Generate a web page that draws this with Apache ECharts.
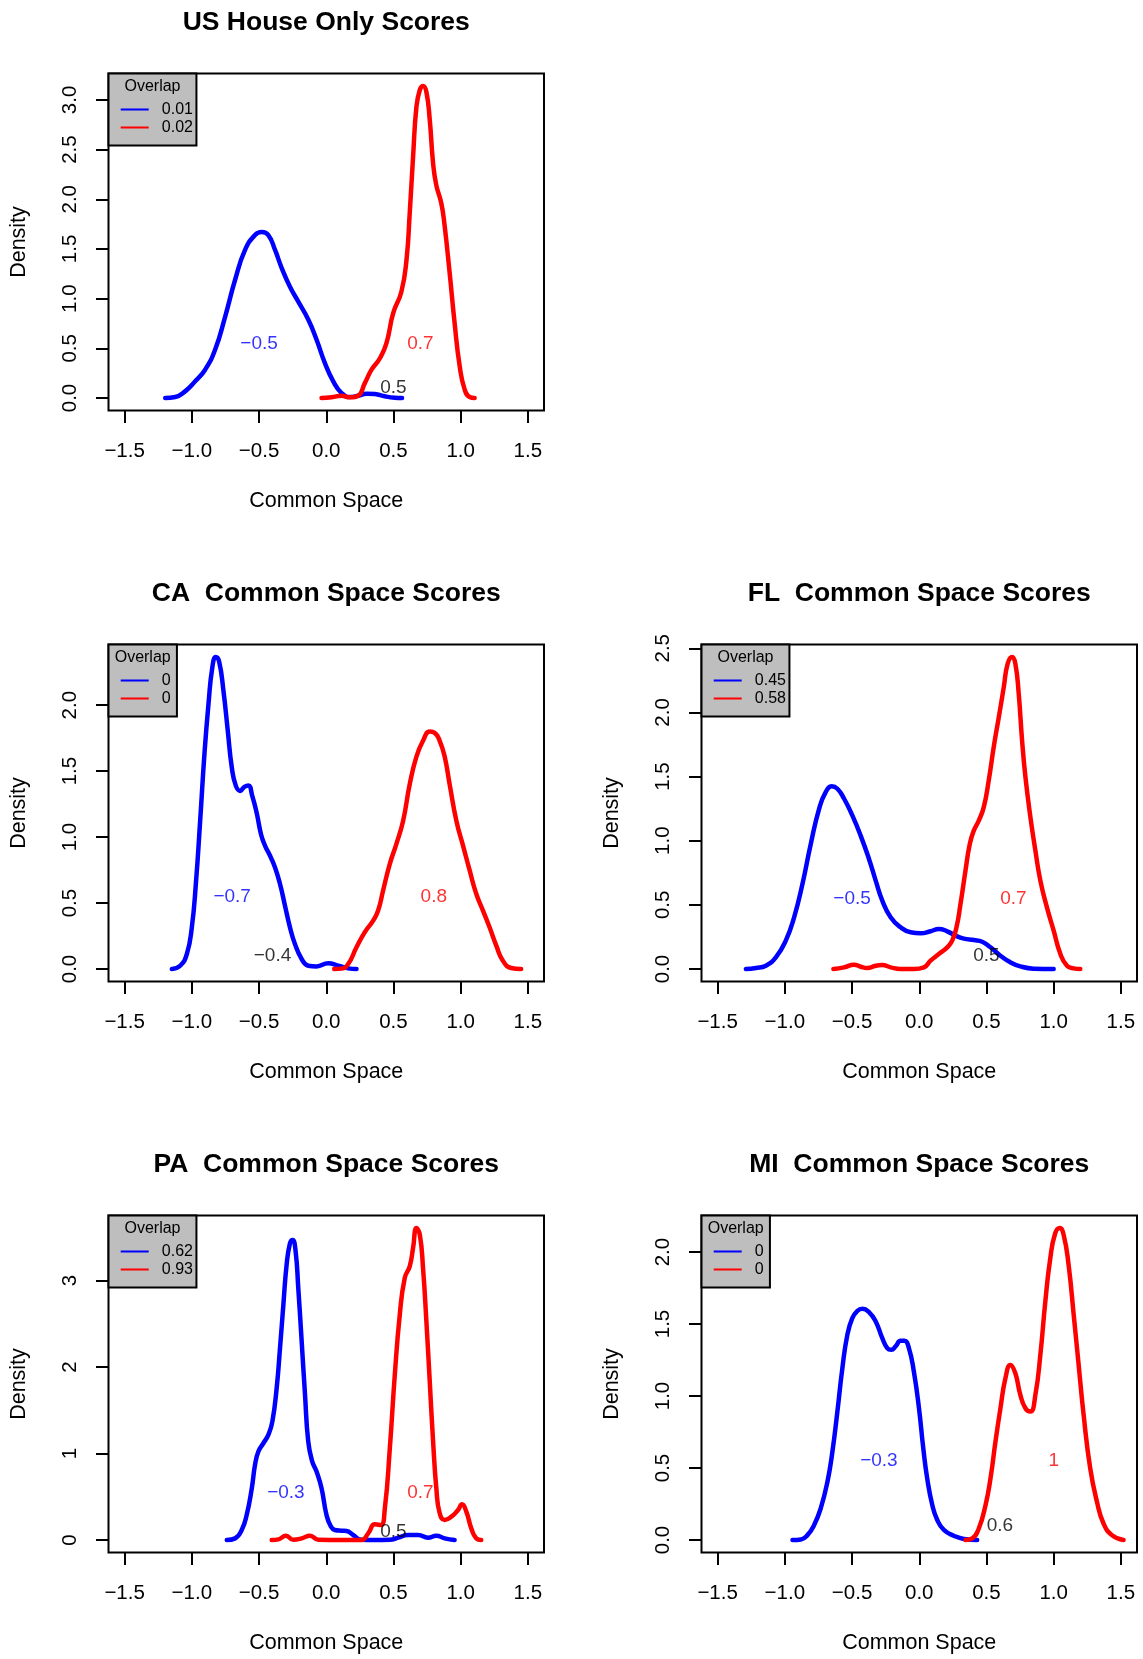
<!DOCTYPE html>
<html>
<head>
<meta charset="utf-8">
<script src="https://cdn.jsdelivr.net/npm/echarts@6/dist/echarts.min.js"></script>
<style>
  html, body { margin: 0; padding: 0; background: #ffffff; }
  #chart { width: 1143px; height: 1659px; }
</style>
</head>
<body>
<div id="chart"></div>
<script>
// ---- Data: kernel density curves of common-space scores ([score, density]) ----
const usBlue = [[-1.198,0],[-1.124,0.01],[-1.05,0.067],[-0.975,0.168],[-0.901,0.285],[-0.827,0.486],[-0.752,0.82],[-0.678,1.19],[-0.604,1.49],[-0.53,1.64],[-0.48,1.67],[-0.431,1.64],[-0.381,1.49],[-0.332,1.31],[-0.27,1.12],[-0.208,0.97],[-0.134,0.79],[-0.072,0.586],[-0.01,0.352],[0.052,0.168],[0.114,0.05],[0.176,0.01],[0.238,0.023],[0.3,0.044],[0.361,0.04],[0.436,0.017],[0.51,0.003],[0.564,0]];
const usRed = [[-0.035,0],[0.04,0.007],[0.114,0.023],[0.176,0.007],[0.238,0.023],[0.287,0.15],[0.337,0.285],[0.399,0.4],[0.448,0.553],[0.498,0.854],[0.559,1.07],[0.597,1.39],[0.621,1.86],[0.646,2.43],[0.671,2.93],[0.696,3.1],[0.72,3.14],[0.745,3.08],[0.77,2.8],[0.795,2.36],[0.819,2.14],[0.856,1.96],[0.881,1.73],[0.918,1.26],[0.955,0.754],[0.993,0.318],[1.03,0.084],[1.067,0.01],[1.104,0]];

const caBlue = [[-1.149,0],[-1.087,0.025],[-1.037,0.114],[-1.0,0.316],[-0.97,0.646],[-0.938,1.124],[-0.906,1.633],[-0.876,2.01],[-0.847,2.29],[-0.822,2.365],[-0.797,2.33],[-0.765,2.11],[-0.733,1.81],[-0.703,1.53],[-0.673,1.39],[-0.641,1.35],[-0.609,1.38],[-0.579,1.39],[-0.55,1.31],[-0.517,1.18],[-0.485,1.02],[-0.455,0.934],[-0.418,0.858],[-0.381,0.77],[-0.344,0.644],[-0.307,0.48],[-0.27,0.316],[-0.233,0.19],[-0.183,0.076],[-0.134,0.025],[-0.072,0.02],[0.015,0.043],[0.089,0.025],[0.163,0.005],[0.225,0]];
const caRed = [[0.059,0],[0.114,0.003],[0.163,0.038],[0.225,0.165],[0.287,0.28],[0.349,0.367],[0.386,0.443],[0.423,0.595],[0.473,0.797],[0.522,0.949],[0.572,1.124],[0.621,1.4],[0.671,1.61],[0.72,1.73],[0.77,1.8],[0.807,1.79],[0.844,1.73],[0.881,1.61],[0.918,1.4],[0.968,1.124],[1.017,0.937],[1.067,0.747],[1.116,0.57],[1.166,0.443],[1.215,0.316],[1.265,0.177],[1.314,0.063],[1.376,0.008],[1.45,0]];

const flBlue = [[-1.29,0],[-1.215,0.008],[-1.141,0.026],[-1.067,0.091],[-0.993,0.221],[-0.931,0.403],[-0.869,0.663],[-0.807,0.975],[-0.745,1.249],[-0.696,1.379],[-0.651,1.424],[-0.609,1.405],[-0.559,1.327],[-0.498,1.197],[-0.436,1.04],[-0.374,0.858],[-0.324,0.689],[-0.275,0.533],[-0.213,0.403],[-0.139,0.325],[-0.064,0.286],[0.01,0.278],[0.084,0.294],[0.146,0.312],[0.208,0.294],[0.27,0.26],[0.332,0.237],[0.406,0.226],[0.468,0.213],[0.53,0.169],[0.604,0.104],[0.678,0.052],[0.752,0.021],[0.851,0.003],[1.0,0]];
const flRed = [[-0.639,0],[-0.559,0.013],[-0.485,0.034],[-0.436,0.018],[-0.386,0.008],[-0.324,0.026],[-0.275,0.031],[-0.213,0.013],[-0.139,0],[-0.04,0],[0.035,0.013],[0.084,0.065],[0.146,0.117],[0.208,0.169],[0.245,0.221],[0.277,0.325],[0.307,0.507],[0.344,0.767],[0.376,0.975],[0.406,1.079],[0.443,1.157],[0.48,1.262],[0.517,1.47],[0.554,1.73],[0.592,1.964],[0.629,2.198],[0.658,2.38],[0.691,2.432],[0.715,2.38],[0.74,2.146],[0.765,1.782],[0.79,1.496],[0.827,1.183],[0.864,0.923],[0.901,0.689],[0.95,0.481],[1.0,0.299],[1.05,0.117],[1.099,0.026],[1.149,0.005],[1.198,0]];

const paBlue = [[-0.74,0],[-0.678,0.019],[-0.629,0.116],[-0.592,0.289],[-0.554,0.598],[-0.53,0.868],[-0.505,1.023],[-0.468,1.119],[-0.431,1.216],[-0.401,1.37],[-0.369,1.756],[-0.344,2.219],[-0.319,2.72],[-0.295,3.18],[-0.27,3.43],[-0.25,3.47],[-0.228,3.34],[-0.208,2.91],[-0.183,2.3],[-0.158,1.68],[-0.134,1.14],[-0.104,0.907],[-0.072,0.791],[-0.035,0.598],[0.002,0.289],[0.035,0.154],[0.064,0.116],[0.114,0.108],[0.151,0.104],[0.2,0.058],[0.262,0.003],[0.361,0],[0.473,0.002],[0.535,0.027],[0.609,0.058],[0.683,0.058],[0.757,0.027],[0.819,0.05],[0.881,0.019],[0.955,0]];
const paRed = [[-0.406,0],[-0.356,0.008],[-0.3,0.05],[-0.245,0.004],[-0.183,0.019],[-0.121,0.05],[-0.059,0.003],[0.114,0],[0.262,0],[0.312,0.077],[0.361,0.181],[0.406,0.174],[0.436,0.367],[0.473,1.061],[0.51,1.91],[0.547,2.605],[0.584,3.03],[0.621,3.165],[0.646,3.377],[0.671,3.608],[0.696,3.53],[0.72,3.146],[0.745,2.528],[0.77,1.833],[0.795,1.139],[0.819,0.598],[0.844,0.309],[0.881,0.232],[0.931,0.27],[0.98,0.347],[1.01,0.413],[1.042,0.328],[1.079,0.135],[1.116,0.019],[1.153,0]];

const miBlue = [[-0.943,0],[-0.881,0.004],[-0.832,0.034],[-0.782,0.104],[-0.733,0.22],[-0.683,0.405],[-0.646,0.614],[-0.609,0.892],[-0.572,1.193],[-0.535,1.425],[-0.498,1.541],[-0.46,1.592],[-0.423,1.606],[-0.374,1.583],[-0.324,1.518],[-0.275,1.402],[-0.238,1.333],[-0.208,1.321],[-0.176,1.344],[-0.139,1.383],[-0.109,1.383],[-0.077,1.333],[-0.04,1.17],[-0.002,0.915],[0.03,0.637],[0.059,0.429],[0.097,0.243],[0.134,0.139],[0.183,0.07],[0.257,0.03],[0.332,0.007],[0.431,0]];
const miRed = [[0.344,0],[0.394,0.011],[0.443,0.08],[0.493,0.242],[0.53,0.428],[0.567,0.683],[0.604,0.915],[0.641,1.123],[0.678,1.216],[0.715,1.158],[0.752,1.008],[0.79,0.915],[0.827,0.892],[0.864,1.008],[0.901,1.286],[0.938,1.656],[0.975,1.958],[1.012,2.132],[1.045,2.167],[1.074,2.12],[1.111,1.912],[1.149,1.564],[1.186,1.216],[1.223,0.868],[1.272,0.498],[1.322,0.266],[1.371,0.115],[1.433,0.034],[1.52,0]];

// Overlap values shown in each legend (blue, red)
const usOverlap = ['0.01', '0.02'];
const caOverlap = ['0', '0'];
const flOverlap = ['0.45', '0.58'];
const paOverlap = ['0.62', '0.93'];
const miOverlap = ['0', '0'];

// Group means (blue, red) and the cut point written near the baseline
const usMeans = [-0.5, 0.7];
const caMeans = [-0.7, 0.8];
const flMeans = [-0.5, 0.7];
const paMeans = [-0.3, 0.7];
const miMeans = [-0.3, 1];
const usCut = 0.5;
const caCut = -0.4;
const flCut = 0.5;
const paCut = 0.5;
const miCut = 0.6;

// Panel titles
const panelTitles = [
  'US House Only Scores',
  'CA  Common Space Scores',
  'FL  Common Space Scores',
  'PA  Common Space Scores',
  'MI  Common Space Scores'
];

// Tick values and labels
const xTicks = [-1.5, -1, -0.5, 0, 0.5, 1, 1.5];
const xTickLabels = ['\u22121.5', '\u22121.0', '\u22120.5', '0.0', '0.5', '1.0', '1.5'];
const usYTicks = [0, 0.5, 1, 1.5, 2, 2.5, 3];
const usYLabels = ['0.0', '0.5', '1.0', '1.5', '2.0', '2.5', '3.0'];
const caYTicks = [0, 0.5, 1, 1.5, 2];
const caYLabels = ['0.0', '0.5', '1.0', '1.5', '2.0'];
const flYTicks = [0, 0.5, 1, 1.5, 2, 2.5];
const flYLabels = ['0.0', '0.5', '1.0', '1.5', '2.0', '2.5'];
const paYTicks = [0, 1, 2, 3];
const paYLabels = ['0', '1', '2', '3'];
const miYTicks = [0, 0.5, 1, 1.5, 2];
const miYLabels = ['0.0', '0.5', '1.0', '1.5', '2.0'];

const xAxisTitle = 'Common Space';
const yAxisTitle = 'Density';
const legendTitle = 'Overlap';

// ---- Layout & style ----
const FONT = '"Liberation Sans", Arial, Helvetica, sans-serif';
const BLUE = '#0000ff';
const RED = '#ff0000';
const GRID_W = 435.5;
const GRID_H = 337;
const X_RANGE = [-1.62, 1.62];
const MEAN_LABEL_Y = 0.55;
const CUT_LABEL_Y = 0.1;

const panels = [
  { title: panelTitles[0], blue: usBlue, red: usRed, overlap: usOverlap, means: usMeans, cut: usCut, yTicks: usYTicks, yLabels: usYLabels, left: 108.5, top: 73.5 },
  { title: panelTitles[1], blue: caBlue, red: caRed, overlap: caOverlap, means: caMeans, cut: caCut, yTicks: caYTicks, yLabels: caYLabels, left: 108.5, top: 644.5 },
  { title: panelTitles[2], blue: flBlue, red: flRed, overlap: flOverlap, means: flMeans, cut: flCut, yTicks: flYTicks, yLabels: flYLabels, left: 701.5, top: 644.5 },
  { title: panelTitles[3], blue: paBlue, red: paRed, overlap: paOverlap, means: paMeans, cut: paCut, yTicks: paYTicks, yLabels: paYLabels, left: 108.5, top: 1215.5 },
  { title: panelTitles[4], blue: miBlue, red: miRed, overlap: miOverlap, means: miMeans, cut: miCut, yTicks: miYTicks, yLabels: miYLabels, left: 701.5, top: 1215.5 }
];

function fmt(v) {
  return v < 0 ? '\u2212' + String(Math.abs(v)) : String(v);
}
function lookup(ticks, labels) {
  return function (v) {
    const i = ticks.findIndex(function (t) { return Math.abs(t - v) < 1e-9; });
    return i >= 0 ? labels[i] : '';
  };
}

const measureCtx = document.createElement('canvas').getContext('2d');
measureCtx.font = '16px "Liberation Sans"';
function textWidth(s) { return measureCtx.measureText(s).width; }

const grids = [], xAxes = [], yAxes = [], series = [], graphics = [];

panels.forEach(function (p, i) {
  const peak = Math.max.apply(null, p.blue.concat(p.red).map(function (d) { return d[1]; }));
  grids.push({
    left: p.left, top: p.top, width: GRID_W, height: GRID_H,
    show: true, borderColor: '#000', borderWidth: 2, backgroundColor: 'transparent',
    containLabel: false, outerBoundsMode: 'none'
  });
  xAxes.push({
    type: 'value', gridIndex: i, min: X_RANGE[0], max: X_RANGE[1],
    axisLine: { show: false, onZero: false },
    splitLine: { show: false },
    axisTick: { show: true, inside: false, length: 12.5, customValues: xTicks, lineStyle: { color: '#000', width: 2 } },
    axisLabel: { customValues: xTicks, formatter: lookup(xTicks, xTickLabels), fontFamily: FONT, fontSize: 20.5, color: '#000', margin: 30 },
    name: xAxisTitle, nameLocation: 'middle', nameGap: 79.5,
    nameTextStyle: { fontFamily: FONT, fontSize: 21.5, color: '#000' }
  });
  yAxes.push({
    type: 'value', gridIndex: i, min: -0.04 * peak, max: 1.04 * peak,
    axisLine: { show: false, onZero: false },
    splitLine: { show: false },
    axisTick: { show: true, inside: false, length: 12.5, customValues: p.yTicks, lineStyle: { color: '#000', width: 2 } },
    axisLabel: { customValues: p.yTicks, formatter: lookup(p.yTicks, p.yLabels), rotate: 90, fontFamily: FONT, fontSize: 20.5, color: '#000', margin: 28 },
    name: yAxisTitle, nameLocation: 'middle', nameGap: 78,
    nameTextStyle: { fontFamily: FONT, fontSize: 21.5, color: '#000' }
  });

  [[p.blue, BLUE], [p.red, RED]].forEach(function (pair, k) {
    series.push({
      type: 'line', xAxisIndex: i, yAxisIndex: i, data: pair[0],
      smooth: 0.5, showSymbol: false, symbol: 'none',
      lineStyle: { color: pair[1], width: 4.5, cap: 'round', join: 'round' },
      z: 3 + k, silent: true, animation: false
    });
  });

  series.push({
    type: 'scatter', xAxisIndex: i, yAxisIndex: i, symbolSize: 2, silent: true, z: 10,
    itemStyle: { color: 'rgba(0,0,0,0)' },
    label: { show: true, position: 'inside', offset: [0, 1], fontFamily: FONT, fontSize: 19 },
    labelLayout: { hideOverlap: false },
    data: [
      { value: [p.means[0], MEAN_LABEL_Y], label: { formatter: fmt(p.means[0]), color: BLUE } },
      { value: [p.means[1], MEAN_LABEL_Y], label: { formatter: fmt(p.means[1]), color: RED } },
      { value: [p.cut, CUT_LABEL_Y], label: { formatter: fmt(p.cut), color: '#000' } }
    ]
  });

  // Panel title
  graphics.push({
    type: 'text', x: p.left + GRID_W / 2, y: p.top - 50.5, silent: true,
    style: { text: p.title, fontFamily: FONT, fontSize: 26.5, fontWeight: 'bold', fill: '#000', align: 'center', verticalAlign: 'middle' }
  });

  // Overlap legend box
  const valueW = Math.max(textWidth(p.overlap[0]), textWidth(p.overlap[1]));
  const boxW = Math.max(textWidth(legendTitle) + 12.4, 53.3 + valueW + 3.5);
  graphics.push({
    type: 'group', x: p.left, y: p.top, silent: true, z: 20,
    children: [
      { type: 'rect', shape: { x: 0, y: 0, width: boxW, height: 72 }, style: { fill: '#bebebe', stroke: '#000', lineWidth: 2 } },
      { type: 'text', x: boxW / 2, y: 13.5, style: { text: legendTitle, fontFamily: FONT, fontSize: 16, fill: '#000', align: 'center', verticalAlign: 'middle' } },
      { type: 'line', shape: { x1: 12.2, y1: 36, x2: 40.2, y2: 36 }, style: { stroke: BLUE, lineWidth: 2 } },
      { type: 'line', shape: { x1: 12.2, y1: 54, x2: 40.2, y2: 54 }, style: { stroke: RED, lineWidth: 2 } },
      { type: 'text', x: 53.3, y: 36.5, style: { text: p.overlap[0], fontFamily: FONT, fontSize: 16, fill: '#000', align: 'left', verticalAlign: 'middle' } },
      { type: 'text', x: 53.3, y: 54.5, style: { text: p.overlap[1], fontFamily: FONT, fontSize: 16, fill: '#000', align: 'left', verticalAlign: 'middle' } }
    ]
  });
});

const chart = echarts.init(document.getElementById('chart'), null, { renderer: 'canvas', width: 1143, height: 1659 });
chart.setOption({
  backgroundColor: '#ffffff',
  animation: false,
  textStyle: { fontFamily: FONT },
  grid: grids,
  xAxis: xAxes,
  yAxis: yAxes,
  series: series,
  graphic: graphics
});
</script>
</body>
</html>
